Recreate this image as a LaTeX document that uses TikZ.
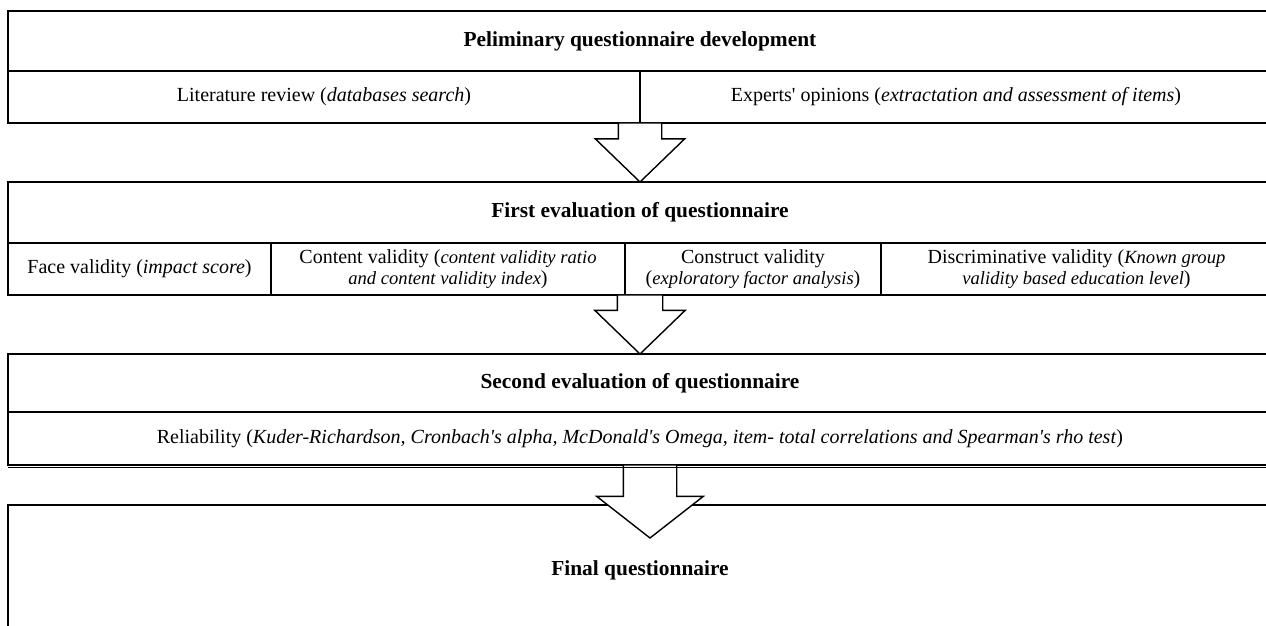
\documentclass[tikz,border=0pt]{standalone}
\usepackage{fontspec}
\setmainfont{Liberation Serif}
\usetikzlibrary{shapes.arrows}
\newcommand{\ap}{\textquotesingle}
\newcommand{\sm}[1]{{\fontsize{9.3}{10.5}\selectfont\itshape #1}}
\begin{document}
\begin{tikzpicture}[x={(0.5pt,0)}, y={(0,-0.5pt)}, line width=.7pt,
  cell/.style={draw, rectangle, inner sep=0pt, outer sep=0pt, anchor=north west,
    align=center, font=\fontsize{10}{10.5}\selectfont},
  head/.style={cell, font=\fontsize{10.7}{13}\selectfont\bfseries},
  bigarrow/.style={draw, fill=white, single arrow, rotate=-90, inner xsep=0pt,
    outer sep=0pt, anchor=tail}]
\useasboundingbox (0,0) rectangle (1266,626);
\clip (0,0) rectangle (1266,626);
% first block
\node[head, minimum width=632pt, minimum height=30pt] (t1) at (8,11) {Peliminary questionnaire development};
\node[cell, minimum width=316pt, minimum height=26pt] (lit) at (t1.south west) {Literature review (\textit{databases search})};
\node[cell, minimum width=316pt, minimum height=26pt] (exp) at (lit.north east) {Experts\ap{} opinions (\textit{extractation and assessment of items})};
% second block
\node[head, minimum width=632pt, minimum height=30.5pt] (t2) at (8,182) {First evaluation of questionnaire};
\node[cell, minimum width=131.5pt, minimum height=26pt] (face) at (t2.south west) {Face validity (\textit{impact score})};
\node[cell, minimum width=177pt, minimum height=26pt] (cont) at (face.north east) {Content validity (\sm{content validity ratio}\\ \sm{and content validity index})};
\node[cell, minimum width=128pt, minimum height=26pt] (cons) at (cont.north east) {Construct validity\\ (\sm{exploratory factor analysis})};
\node[cell, minimum width=195.5pt, minimum height=26pt] (disc) at (cons.north east) {Discriminative validity (\sm{Known group}\\ \sm{validity based education level})};
% third block
\node[head, minimum width=632pt, minimum height=29pt] (t3) at (8,354) {Second evaluation of questionnaire};
\node[cell, minimum width=632pt, minimum height=26.5pt] (rel) at (t3.south west) {Reliability (\textit{Kuder-Richardson, Cronbach\ap{}s alpha, McDonald\ap{}s Omega, item- total correlations and Spearman\ap{}s rho test})};
% last block
\node[head, minimum width=632pt, minimum height=65pt] (fin) at (8,505) {Final questionnaire};
% arrows
\node[bigarrow, minimum height=29.5pt, inner ysep=10.5pt, single arrow head extend=11.5pt,
  single arrow tip angle=92] (a1) at (lit.south east) {};
\node[bigarrow, minimum height=29.5pt, inner ysep=11pt, single arrow head extend=11.25pt,
  single arrow tip angle=92] (a2) at (t2.center |- cons.south) {};
\node[bigarrow, minimum height=36.5pt, inner ysep=13pt, single arrow head extend=13.25pt,
  single arrow tip angle=104] (a3) at ([xshift=5pt]rel.south) {};
\draw ([yshift=-1.3pt]rel.south west) -- ([yshift=-1.3pt]rel.south east);
\end{tikzpicture}
\end{document}
